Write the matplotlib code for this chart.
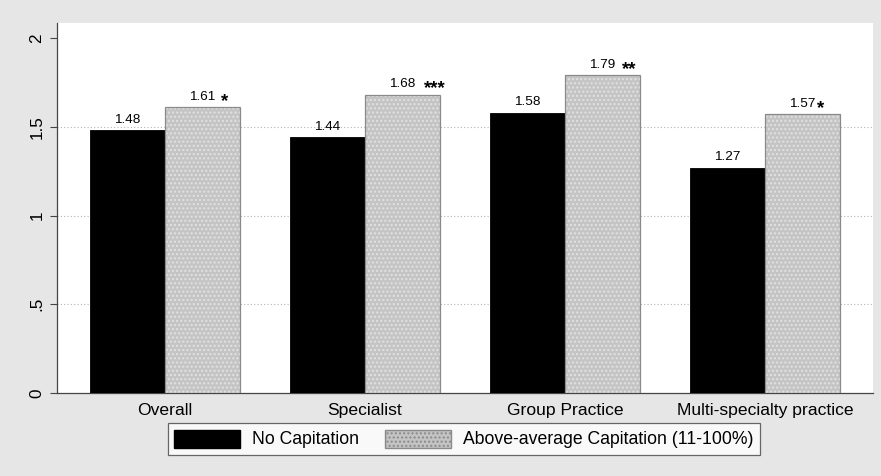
import matplotlib.pyplot as plt
import numpy as np
from matplotlib.patches import Patch

plt.rcParams["font.family"] = ["Liberation Sans", "DejaVu Sans"]

# Data
categories = ["Overall", "Specialist", "Group Practice", "Multi-specialty practice"]
no_cap = [1.48, 1.44, 1.58, 1.27]
above_cap = [1.61, 1.68, 1.79, 1.57]
stars = ["*", "***", "**", "*"]
series_names = ["No Capitation", "Above-average Capitation (11-100%)"]
yticks = [0, 0.5, 1, 1.5, 2]
ytick_labels = ["0", ".5", "1", "1.5", "2"]

# Style
bg_color = "#e6e6e6"
gray_face = "#c4c4c4"
gray_edge = "#8a8a8a"
width = 0.375
star_gap = [18, 21, 19, 14]   # px from bar centre to first star

fig = plt.figure(figsize=(8.81, 4.76), dpi=100)
fig.patch.set_facecolor(bg_color)
ax = fig.add_axes([57 / 881, 1 - 393 / 476, 816 / 881, 370 / 476])
ax.set_facecolor("white")

x = np.arange(1, len(categories) + 1)
ax.bar(x - width / 2, no_cap, width, color="black", edgecolor="black", linewidth=0.6, zorder=3)
ax.bar(x + width / 2, above_cap, width, color=gray_face, edgecolor="#e2e2e2",
       linewidth=0, hatch="....", zorder=3)
ax.bar(x + width / 2, above_cap, width, fill=False, edgecolor=gray_edge, linewidth=0.9, zorder=4)

# value labels
for xi, v in zip(x, no_cap):
    ax.annotate(f"{v:.2f}", (xi - width / 2, v), xytext=(0, 5.5), textcoords="offset points",
                ha="center", va="baseline", fontsize=9.7)
for xi, v, s, g in zip(x, above_cap, stars, star_gap):
    ax.annotate(f"{v:.2f}", (xi + width / 2, v), xytext=(0, 5.5), textcoords="offset points",
                ha="center", va="baseline", fontsize=9.7)
    ax.annotate(s, (xi + width / 2, v), xytext=(g * 0.72, 1.0), textcoords="offset points",
                ha="left", va="baseline", fontsize=13.5, fontweight="bold")

ax.set_xlim(0.46, 4.54)
ax.set_ylim(0, 2.085)
ax.set_yticks(yticks)
ax.set_yticklabels(ytick_labels, rotation=90, va="center", fontsize=12.3)
ax.set_xticks(x)
ax.set_xticklabels(categories, fontsize=12.6)
ax.tick_params(axis="x", length=0, pad=7)
ax.tick_params(axis="y", length=5, width=0.8, color="#444444", pad=4)

for y in [0.5, 1, 1.5]:
    ax.axhline(y, color="#b5b5b5", linestyle=(0, (1, 2)), linewidth=0.8, zorder=1)

for side in ["top", "right"]:
    ax.spines[side].set_visible(False)
for side in ["left", "bottom"]:
    ax.spines[side].set_color("#444444")
    ax.spines[side].set_linewidth(0.9)

handles = [
    Patch(facecolor="black", edgecolor="black", label=series_names[0]),
    Patch(facecolor=gray_face, edgecolor=gray_edge, hatch="....", label=series_names[1]),
]
leg = fig.legend(handles=handles, loc="center", bbox_to_anchor=(464 / 881, 1 - 439 / 476),
                 ncol=2, fontsize=12.7, frameon=True, fancybox=False, handlelength=3.74,
                 handleheight=1.2, columnspacing=1.47, borderpad=0.35, handletextpad=0.68)
leg.get_frame().set_edgecolor("#444444")
leg.get_frame().set_linewidth(0.9)

fig.savefig("out.png", dpi=100, facecolor=fig.get_facecolor())
